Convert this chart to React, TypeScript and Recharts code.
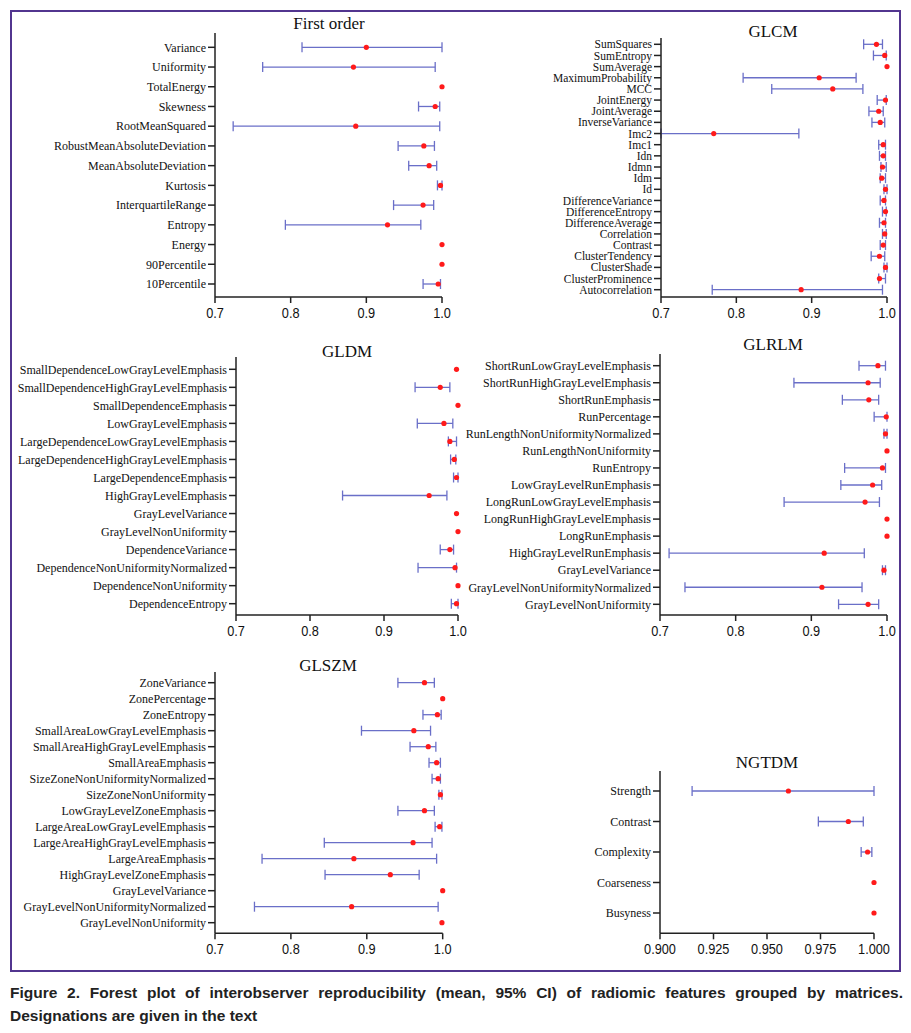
import { ScatterChart, Scatter, XAxis, YAxis, ErrorBar } from "recharts";

// ---- data: ICC mean with 95% CI ----

const firstOrderNames = [
  "Variance", "Uniformity", "TotalEnergy", "Skewness", "RootMeanSquared",
  "RobustMeanAbsoluteDeviation", "MeanAbsoluteDeviation", "Kurtosis",
  "InterquartileRange", "Entropy", "Energy", "90Percentile", "10Percentile",
];
const firstOrderMean = [0.900, 0.883, 1.000, 0.991, 0.886, 0.976, 0.983, 0.998, 0.975, 0.928, 1.000, 1.000, 0.995];
const firstOrderLow = [0.815, 0.763, 1.000, 0.969, 0.724, 0.942, 0.956, 0.994, 0.936, 0.793, 1.000, 1.000, 0.975];
const firstOrderHigh = [1.000, 0.991, 1.000, 0.997, 0.997, 0.990, 0.993, 1.000, 0.989, 0.972, 1.000, 1.000, 0.998];

const glcmNames = [
  "SumSquares", "SumEntropy", "SumAverage", "MaximumProbability", "MCC", "JointEnergy",
  "JointAverage", "InverseVariance", "Imc2", "Imc1", "Idn", "Idmn", "Idm", "Id",
  "DifferenceVariance", "DifferenceEntropy", "DifferenceAverage", "Correlation", "Contrast",
  "ClusterTendency", "ClusterShade", "ClusterProminence", "Autocorrelation",
];
const glcmMean = [0.986, 0.997, 1.000, 0.910, 0.928, 0.998, 0.989, 0.991, 0.770, 0.995, 0.995, 0.994, 0.993, 0.998, 0.996, 0.998, 0.996, 0.997, 0.995, 0.990, 0.998, 0.990, 0.886];
const glcmLow = [0.969, 0.982, 1.000, 0.809, 0.847, 0.987, 0.976, 0.980, 0.700, 0.989, 0.990, 0.992, 0.991, 0.996, 0.991, 0.994, 0.990, 0.994, 0.991, 0.979, 0.996, 0.989, 0.768];
const glcmHigh = [0.994, 0.999, 1.000, 0.959, 0.968, 0.999, 0.995, 0.997, 0.883, 0.998, 0.998, 0.999, 0.998, 1.000, 0.998, 0.999, 0.998, 0.999, 0.998, 0.997, 1.000, 0.998, 0.994];

const gldmNames = [
  "SmallDependenceLowGrayLevelEmphasis", "SmallDependenceHighGrayLevelEmphasis",
  "SmallDependenceEmphasis", "LowGrayLevelEmphasis", "LargeDependenceLowGrayLevelEmphasis",
  "LargeDependenceHighGrayLevelEmphasis", "LargeDependenceEmphasis", "HighGrayLevelEmphasis",
  "GrayLevelVariance", "GrayLevelNonUniformity", "DependenceVariance",
  "DependenceNonUniformityNormalized", "DependenceNonUniformity", "DependenceEntropy",
];
const gldmMean = [0.998, 0.976, 1.000, 0.981, 0.989, 0.995, 0.998, 0.961, 0.998, 1.000, 0.989, 0.996, 1.000, 0.998];
const gldmLow = [0.998, 0.942, 1.000, 0.945, 0.987, 0.990, 0.994, 0.844, 0.998, 1.000, 0.976, 0.946, 1.000, 0.991];
const gldmHigh = [0.998, 0.989, 1.000, 0.993, 0.998, 0.997, 1.000, 0.985, 0.998, 1.000, 0.994, 0.998, 1.000, 1.000];

const glrlmNames = [
  "ShortRunLowGrayLevelEmphasis", "ShortRunHighGrayLevelEmphasis", "ShortRunEmphasis",
  "RunPercentage", "RunLengthNonUniformityNormalized", "RunLengthNonUniformity", "RunEntropy",
  "LowGrayLevelRunEmphasis", "LongRunLowGrayLevelEmphasis", "LongRunHighGrayLevelEmphasis",
  "LongRunEmphasis", "HighGrayLevelRunEmphasis", "GrayLevelVariance",
  "GrayLevelNonUniformityNormalized", "GrayLevelNonUniformity",
];
const glrlmMean = [0.988, 0.975, 0.976, 0.999, 0.998, 1.000, 0.994, 0.981, 0.971, 1.000, 1.000, 0.917, 0.996, 0.914, 0.975];
const glrlmLow = [0.963, 0.877, 0.941, 0.983, 0.996, 1.000, 0.944, 0.939, 0.864, 1.000, 1.000, 0.712, 0.994, 0.733, 0.936];
const glrlmHigh = [0.998, 0.991, 0.989, 1.000, 1.000, 1.000, 0.998, 0.993, 0.990, 1.000, 1.000, 0.970, 0.998, 0.967, 0.989];

const glszmNames = [
  "ZoneVariance", "ZonePercentage", "ZoneEntropy", "SmallAreaLowGrayLevelEmphasis",
  "SmallAreaHighGrayLevelEmphasis", "SmallAreaEmphasis", "SizeZoneNonUniformityNormalized",
  "SizeZoneNonUniformity", "LowGrayLevelZoneEmphasis", "LargeAreaLowGrayLevelEmphasis",
  "LargeAreaHighGrayLevelEmphasis", "LargeAreaEmphasis", "HighGrayLevelZoneEmphasis",
  "GrayLevelVariance", "GrayLevelNonUniformityNormalized", "GrayLevelNonUniformity",
];
const glszmMean = [0.976, 1.000, 0.993, 0.962, 0.981, 0.992, 0.994, 0.997, 0.976, 0.996, 0.961, 0.883, 0.931, 1.000, 0.880, 0.999];
const glszmLow = [0.941, 1.000, 0.974, 0.893, 0.957, 0.982, 0.986, 0.995, 0.941, 0.990, 0.844, 0.762, 0.845, 1.000, 0.752, 0.999];
const glszmHigh = [0.989, 1.000, 0.998, 0.984, 0.991, 0.997, 0.997, 0.999, 0.989, 0.999, 0.986, 0.992, 0.969, 1.000, 0.994, 0.999];

const ngtdmNames = ["Strength", "Contrast", "Complexity", "Coarseness", "Busyness"];
const ngtdmMean = [0.960, 0.988, 0.997, 1.000, 1.000];
const ngtdmLow = [0.915, 0.974, 0.994, 1.000, 1.000];
const ngtdmHigh = [1.000, 0.995, 0.999, 1.000, 1.000];

const iccTicks = [0.7, 0.8, 0.9, 1.0];
const ngtdmTicks = [0.9, 0.925, 0.95, 0.975, 1.0];

// ---- layout (page pixels) ----

const SERIF = '"Liberation Serif", "Times New Roman", serif';
const SANS = '"Liberation Sans", Arial, sans-serif';
const AXIS = "#222";
const DOT = "#ff1a1a";
const BAR = "#6a6fc8";

type Box = {
  left: number; plotLeft: number; plotRight: number; plotTop: number; plotBottom: number;
  firstRow: number; lastRow: number; titleX: number; titleY: number;
};

type PanelProps = {
  title: string; names: string[]; mean: number[]; low: number[]; high: number[];
  ticks: number[]; digits: number; box: Box; labelSize?: number;
};

const renderDot = (p: any) => <circle cx={p.cx} cy={p.cy} r={2.6} fill={DOT} />;

// narrow-looking sans tick labels like the GraphPad export
const XTick = ({ x, y, payload, digits }: any) => (
  <text
    x={x}
    y={y}
    dy="0.71em"
    textAnchor="middle"
    fontFamily={SANS}
    fontSize={15}
    fill="#111"
    transform={`translate(${x} 0) scale(0.85 1) translate(${-x} 0)`}
  >
    {Number(payload.value).toFixed(digits)}
  </text>
);

function ForestPanel({ title, names, mean, low, high, ticks, digits, box, labelSize = 12 }: PanelProps) {
  const rows = names.map((name, i) => ({
    idx: i,
    name,
    mean: mean[i],
    err: [mean[i] - low[i], high[i] - mean[i]],
    hasCI: high[i] - low[i] > 0.0005,
  }));
  const withCI = rows.filter((r) => r.hasCI);
  const pointOnly = rows.filter((r) => !r.hasCI);
  const n = names.length;
  const step = (box.lastRow - box.firstRow) / (n - 1);
  const yMin = -(box.firstRow - box.plotTop) / step;
  const yMax = n - 1 + (box.plotBottom - box.lastRow) / step;
  const top = box.plotTop - 4;
  const xAxisHeight = 34;
  const marginRight = 24;
  const width = box.plotRight + marginRight - box.left;
  const height = box.plotBottom - top + xAxisHeight;

  return (
    <>
      <div
        style={{
          position: "absolute", left: box.titleX - 100, top: box.titleY - 11, width: 200,
          textAlign: "center", fontFamily: SERIF, fontSize: 17, lineHeight: "22px", color: "#111",
        }}
      >
        {title}
      </div>
      <div style={{ position: "absolute", left: box.left, top }}>
        <ScatterChart width={width} height={height} margin={{ top: 4, right: marginRight, bottom: 0, left: 0 }}>
          <XAxis
            type="number"
            dataKey="mean"
            domain={[ticks[0], ticks[ticks.length - 1]]}
            ticks={ticks}
            height={xAxisHeight}
            axisLine={{ stroke: AXIS, strokeWidth: 1.5 }}
            tickLine={{ stroke: AXIS, strokeWidth: 1.5 }}
            tickSize={6}
            tickMargin={4}
            tick={<XTick digits={digits} />}
          />
          <YAxis
            type="number"
            dataKey="idx"
            domain={[yMin, yMax]}
            ticks={rows.map((r) => r.idx)}
            interval={0}
            reversed
            tickFormatter={(v: number) => names[Math.round(v)]}
            width={box.plotLeft - box.left}
            axisLine={{ stroke: AXIS, strokeWidth: 1.5 }}
            tickLine={{ stroke: AXIS, strokeWidth: 1.5 }}
            tickSize={7}
            tickMargin={2}
            tick={{ fontFamily: SERIF, fontSize: labelSize, fill: "#111" }}
          />
          <Scatter data={withCI} isAnimationActive={false} shape={renderDot}>
            <ErrorBar dataKey="err" direction="x" width={5} stroke={BAR} strokeWidth={1.3} isAnimationActive={false} />
          </Scatter>
          <Scatter data={pointOnly} isAnimationActive={false} shape={renderDot} />
        </ScatterChart>
      </div>
    </>
  );
}

const boxes: Record<string, Box> = {
  firstOrder: { left: 13, plotLeft: 215, plotRight: 442, plotTop: 33, plotBottom: 297, firstRow: 47.3, lastRow: 284, titleX: 329, titleY: 24 },
  glcm: { left: 455, plotLeft: 661, plotRight: 887, plotTop: 38, plotBottom: 297, firstRow: 44.3, lastRow: 289.7, titleX: 773, titleY: 32 },
  gldm: { left: 13, plotLeft: 236, plotRight: 458, plotTop: 357, plotBottom: 615, firstRow: 369.3, lastRow: 603.7, titleX: 347, titleY: 352 },
  glrlm: { left: 455, plotLeft: 660, plotRight: 887, plotTop: 354, plotBottom: 615, firstRow: 365.7, lastRow: 604.3, titleX: 773, titleY: 345 },
  glszm: { left: 13, plotLeft: 215, plotRight: 442.7, plotTop: 672, plotBottom: 933.3, firstRow: 682.7, lastRow: 922.7, titleX: 328, titleY: 666 },
  ngtdm: { left: 455, plotLeft: 660, plotRight: 874, plotTop: 771, plotBottom: 933.3, firstRow: 791, lastRow: 913, titleX: 767, titleY: 763 },
};

const captionStyle = {
  fontFamily: SANS, fontWeight: "bold" as const, fontSize: 15.5, lineHeight: "23px", color: "#222",
};

export default function App() {
  return (
    <div style={{ position: "absolute", left: 0, top: 0, width: 911, height: 1033, background: "#fff" }}>
      <div
        style={{
          position: "absolute", left: 10, top: 10, width: 891, height: 962,
          border: "2px solid #52358f", boxSizing: "border-box",
        }}
      />
      <ForestPanel title="First order" names={firstOrderNames} mean={firstOrderMean} low={firstOrderLow} high={firstOrderHigh} ticks={iccTicks} digits={1} box={boxes.firstOrder} />
      <ForestPanel title="GLCM" names={glcmNames} mean={glcmMean} low={glcmLow} high={glcmHigh} ticks={iccTicks} digits={1} box={boxes.glcm} labelSize={11.5} />
      <ForestPanel title="GLDM" names={gldmNames} mean={gldmMean} low={gldmLow} high={gldmHigh} ticks={iccTicks} digits={1} box={boxes.gldm} />
      <ForestPanel title="GLRLM" names={glrlmNames} mean={glrlmMean} low={glrlmLow} high={glrlmHigh} ticks={iccTicks} digits={1} box={boxes.glrlm} />
      <ForestPanel title="GLSZM" names={glszmNames} mean={glszmMean} low={glszmLow} high={glszmHigh} ticks={iccTicks} digits={1} box={boxes.glszm} />
      <ForestPanel title="NGTDM" names={ngtdmNames} mean={ngtdmMean} low={ngtdmLow} high={ngtdmHigh} ticks={ngtdmTicks} digits={3} box={boxes.ngtdm} />
      <div style={{ position: "absolute", left: 10, top: 981, width: 893, ...captionStyle }}>
        <div style={{ textAlign: "justify", textAlignLast: "justify", whiteSpace: "nowrap" as const }}>
          Figure 2. Forest plot of interobserver reproducibility (mean, 95% CI) of radiomic features grouped by matrices.
        </div>
        <div>Designations are given in the text</div>
      </div>
    </div>
  );
}
